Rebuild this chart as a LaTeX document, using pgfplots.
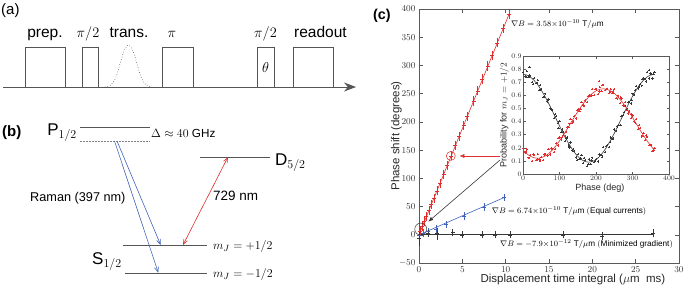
\documentclass[border=0pt]{standalone}
\usepackage{pgfplots}
\pgfplotsset{compat=1.18}
\usepackage{fontspec}
\setmainfont{Liberation Sans}
\usetikzlibrary{arrows.meta}

\definecolor{cred}{RGB}{225,45,45}
\definecolor{cblue}{RGB}{65,100,185}
\definecolor{cblk}{RGB}{55,55,55}
\definecolor{cgray}{RGB}{85,85,85}

\newcommand{\fs}[1]{\fontsize{#1}{#1}\selectfont}

\begin{document}
\begin{tikzpicture}
\useasboundingbox (0pt,0pt) rectangle (685pt,290pt);

% ---------- panels (a) and (b): hidden axis in pixel coordinates ----------
\begin{axis}[at={(0pt,0pt)},anchor=south west,scale only axis,
  width=685pt,height=290pt,xmin=0,xmax=685,ymin=0,ymax=290,
  y dir=reverse,hide axis,clip=false]
% (a)
\node[anchor=base west,inner sep=0,font=\fs{15}] at (1,14) {(a)};
\draw[cgray,line width=0.8pt,-{Stealth[length=12pt,width=9pt]}] (3,87) -- (356,87);
\draw[cgray,line width=0.7pt] (25,87) -- (25,47) -- (65,47) -- (65,87);
\draw[cgray,line width=0.7pt] (82,87) -- (82,47) -- (98,47) -- (98,87);
\draw[cgray,line width=0.6pt,dotted] plot[smooth] coordinates {(105,87) (111,85) (116,77) (120,64) (124,51) (128.5,45) (133,51) (137,64) (141,77) (146,85) (152,87)};
\draw[cgray,line width=0.7pt] (162,87) -- (162,47) -- (193,47) -- (193,87);
\draw[cgray,line width=0.7pt] (257,87) -- (257,47) -- (274,47) -- (274,87);
\draw[cgray,line width=0.7pt] (293,87) -- (293,47) -- (333,47) -- (333,87);
\node[anchor=base,inner sep=0,font=\fs{15.5}] at (45,37) {prep.};
\node[anchor=base,inner sep=0,font=\fs{15.5}] at (88,37) {$\pi/2$};
\node[anchor=base,inner sep=0,font=\fs{15.5}] at (129,37) {trans.};
\node[anchor=base,inner sep=0,font=\fs{15.5}] at (172,37) {$\pi$};
\node[anchor=base,inner sep=0,font=\fs{15.5}] at (265.5,37) {$\pi/2$};
\node[anchor=base,inner sep=0,font=\fs{15.5}] at (320.5,37) {readout};
\node[inner sep=0,font=\fs{15}] at (265.5,67) {$\theta$};
% (b)
\node[anchor=base west,inner sep=0,font=\fs{15}\bfseries] at (2,136) {(b)};
\draw[cgray,line width=0.7pt] (80,127) -- (150,127);
\draw[gray,line width=0.6pt,dash pattern=on 1.5pt off 1.5pt] (80,141) -- (150,141);
\node[anchor=base east,inner sep=0,font=\fs{17}] at (77,135) {$\mathrm{P}_{1/2}$};
\node[anchor=base west,inner sep=0,font=\fs{11.7}] at (151,137) {$\Delta\approx 40$ GHz};
\draw[cgray,line width=0.7pt] (200,157) -- (270,157);
\node[anchor=base west,inner sep=0,font=\fs{17}] at (275,165) {$\mathrm{D}_{5/2}$};
\node[anchor=base west,inner sep=0,font=\fs{12.7}] at (30,201) {Raman (397 nm)};
\node[anchor=base west,inner sep=0,font=\fs{13.5}] at (213,200) {729 nm};
\draw[cgray,line width=0.7pt] (123,245) -- (207,245);
\draw[cgray,line width=0.7pt] (125,273) -- (207,273);
\node[anchor=base west,inner sep=0,font=\fs{17}] at (92,264.5) {$\mathrm{S}_{1/2}$};
\node[anchor=base west,inner sep=0,font=\fs{12.4}] at (213,249) {$m_J=+1/2$};
\node[anchor=base west,inner sep=0,font=\fs{12.4}] at (213,277) {$m_J=-1/2$};
\draw[cblue,line width=0.6pt,-{Straight Barb[length=5pt,width=4pt]}] (117,141) -- (160.7,245);
\draw[cblue,line width=0.6pt,-{Straight Barb[length=5pt,width=4pt]}] (114.5,141) -- (158.3,272.7);
\draw[cred,line width=0.6pt,{Straight Barb[length=5pt,width=4pt]}-{Straight Barb[length=5pt,width=4pt]}] (183,245) -- (228,157);
% (c) label
\node[anchor=base west,inner sep=0,font=\fs{14.3}\bfseries] at (373,19) {(c)};
\end{axis}

% ---------- panel (c): main axis ----------
\begin{axis}[at={(419pt,27pt)},anchor=south west,scale only axis,
  width=260pt,height=254pt,
  xmin=0,xmax=30,ymin=-50,ymax=400,
  xtick={0,5,...,30},ytick={-50,0,50,100,150,200,250,300,350,400},
  tick align=inside,
  axis line style={black!65},
  every tick/.style={black!65},
  tick label style={font=\fs{9},black!80},
  xlabel={Displacement time integral ($\mu\mathrm{m}\ \ \mathrm{ms}$)},
  ylabel={Phase shift (degrees)},
  label style={font=\fs{11.5},black!85},
  xlabel style={at={(axis description cs:0.592,-0.067)},anchor=center},
  ylabel style={at={(axis description cs:-0.0865,0.5)},anchor=center},
  clip=false]
% fitted lines
\addplot[cred,line width=0.6pt] coordinates {(0,0) (10.45,393)};
\addplot[cblue,line width=0.6pt] coordinates {(0,0) (9.9,66.5)};
\addplot[cblk,line width=0.6pt] coordinates {(0,0) (27,0)};
% red data
\addplot[cred,only marks,mark=-,mark size=2pt,mark options={line width=0.5pt},
  error bars/.cd,y dir=both,y fixed=4.5,
  error bar style={cred,line width=0.5pt},
  error mark options={cred,mark size=2pt,line width=0.5pt}]
  coordinates {(0,0) (0.15,6) (0.38,14.5) (0.62,23.5) (0.86,32.5) (1.14,43)
  (1.43,54) (1.71,64.5) (2.07,78) (2.41,91) (2.84,107) (3.26,123) (3.70,140)
  (4.20,158) (4.62,174) (5.15,194) (5.57,210) (6.29,237) (6.76,255) (7.32,276)
  (7.93,299) (8.44,318) (9.02,340) (9.71,366) (10.39,391)};
% blue data
\addplot[cblue,only marks,mark=-,mark size=2pt,mark options={line width=0.5pt},
  error bars/.cd,y dir=both,y fixed=3,
  error bar style={cblue,line width=0.5pt},
  error mark options={cblue,mark size=2pt,line width=0.5pt}]
  coordinates {(0,0) (0.5,3) (1.09,5.5) (1.94,10) (3.1,18.5) (5.2,33) (7.5,49.5) (9.85,66)};
% black data
\addplot[cblk,only marks,mark=-,mark size=2pt,mark options={line width=0.5pt},
  error bars/.cd,y dir=both,y explicit,
  error bar style={cblk,line width=0.5pt},
  error mark options={cblk,mark size=2pt,line width=0.5pt}]
  coordinates {(0,-7) +- (0,9) (1.09,2) +- (0,2.5) (2.06,2) +- (0,7) (3.88,4) +- (0,3)
  (4.97,0) +- (0,3) (7.3,0) +- (0,3) (8.77,0) +- (0,3) (10.48,0) +- (0,3)
  (16.6,0) +- (0,3) (21.1,-2) +- (0,3) (27.0,3) +- (0,4)};
% annotations
\node[anchor=west,inner sep=0,font=\fs{8.2}] at (axis cs:10.6,373.4)
  {$\nabla B = 3.58{\times}10^{-10}\ \mathrm{T}/\mu\mathrm{m}$};
\node[anchor=west,inner sep=0,font=\fs{8.2}] at (axis cs:8.39,42.6)
  {$\nabla B = 6.74{\times}10^{-10}\ \mathrm{T}/\mu\mathrm{m}\ \mathrm{(Equal\ currents)}$};
\node[anchor=west,inner sep=0,font=\fs{8.2}] at (axis cs:9.35,-16.9)
  {$\nabla B = -7.9{\times}10^{-12}\ \mathrm{T}/\mu\mathrm{m}\ \mathrm{(Minimized\ gradient)}$};
\draw[cred,line width=0.5pt] (axis cs:3.67,139.7) circle[radius=4.5pt];
\draw[cblk,line width=0.5pt] (axis cs:0.2,10) circle[radius=6pt];
\draw[cred,line width=0.6pt,-{Latex[length=5pt,width=4pt]}] (axis cs:9.35,139.6) -- (axis cs:4.65,139.6);
\draw[cblk,line width=0.6pt,-{Latex[length=5pt,width=4pt]}] (axis cs:9.35,132.5) -- (axis cs:1.07,23.2);
\end{axis}

% ---------- inset ----------
\begin{axis}[at={(523pt,116pt)},anchor=south west,scale only axis,
  width=146pt,height=118pt,
  xmin=0,xmax=400,ymin=0,ymax=0.9,
  xtick={0,100,200,300,400},
  ytick={0,0.1,0.2,0.3,0.4,0.5,0.6,0.7,0.8,0.9},
  yticklabel style={/pgf/number format/fixed,/pgf/number format/precision=1,inner sep=1.2pt},
  xticklabel style={inner sep=1.5pt},
  tick align=inside,
  major tick length=2.5pt,
  axis background/.style={fill=white},
  axis line style={black!65},
  every tick/.style={black!65},
  tick label style={font=\fs{7},black!80},
  xlabel={Phase (deg)},
  ylabel={Probability for $m_J=+1/2$},
  xlabel style={font=\fs{9},black!85,inner sep=0,at={(axis description cs:0.527,-0.119)},anchor=center},
  ylabel style={font=\fs{9},black!85,inner sep=0,at={(axis description cs:-0.128,0.5)},anchor=center}]
% black scatter
\addplot[cblk,only marks,mark=+,mark size=1.1pt,mark options={line width=0.35pt}] coordinates {
(0,0.780) (5,0.744) (10,0.785) (15,0.739) (20,0.745) (18,0.815) (25,0.704) (30,0.730) (35,0.694)
(40,0.717) (45,0.642) (50,0.650) (55,0.587) (60,0.613) (65,0.552) (70,0.570) (75,0.502)
(80,0.488) (85,0.429) (90,0.440) (95,0.391) (100,0.402) (105,0.318) (110,0.320) (115,0.253)
(120,0.278) (125,0.218) (130,0.240) (135,0.178) (140,0.173) (145,0.126) (150,0.150) (155,0.116)
(160,0.145) (165,0.081) (170,0.105) (175,0.061) (180,0.110) (185,0.076) (190,0.125) (195,0.091)
(200,0.115) (205,0.096) (210,0.150) (215,0.146) (220,0.203) (225,0.168) (230,0.220) (235,0.203)
(240,0.278) (245,0.268) (250,0.340) (255,0.328) (260,0.372) (265,0.371) (270,0.440) (275,0.449)
(280,0.518) (285,0.492) (290,0.550) (295,0.537) (300,0.613) (305,0.602) (310,0.670) (315,0.652)
(320,0.687) (325,0.674) (330,0.730) (335,0.724) (340,0.775) (345,0.729) (346,0.795) (350,0.765)
(355,0.729) (360,0.780)
(7.5,0.737) (17.5,0.755) (27.5,0.687) (37.5,0.696) (47.5,0.676) (57.5,0.590) (67.5,0.564)
(77.5,0.493) (87.5,0.460) (97.5,0.352) (107.5,0.339) (117.5,0.270) (127.5,0.202) (137.5,0.188)
(147.5,0.108) (157.5,0.121) (167.5,0.123) (177.5,0.076) (187.5,0.103) (197.5,0.101) (207.5,0.148)
(217.5,0.130) (227.5,0.214) (237.5,0.245) (247.5,0.277) (257.5,0.363) (267.5,0.376) (277.5,0.474)
(287.5,0.551) (297.5,0.565) (307.5,0.639) (317.5,0.667) (327.5,0.727) (337.5,0.705) (347.5,0.767)
(357.5,0.760)};
% red scatter
\addplot[cred,only marks,mark=+,mark size=1.1pt,mark options={line width=0.35pt}] coordinates {
(0,0.197) (5,0.163) (10,0.190) (15,0.125) (20,0.146) (25,0.099) (30,0.144) (35,0.106) (40,0.150)
(45,0.111) (50,0.129) (55,0.104) (60,0.151) (65,0.140) (70,0.190) (75,0.148) (80,0.192) (85,0.168)
(90,0.235) (95,0.218) (100,0.283) (105,0.263) (110,0.299) (115,0.291) (120,0.354) (125,0.357)
(130,0.420) (135,0.388) (140,0.441) (145,0.424) (150,0.496) (155,0.482) (160,0.548) (165,0.527)
(170,0.560) (175,0.547) (180,0.603) (185,0.597) (190,0.650) (195,0.605) (200,0.644) (205,0.611)
(208,0.710) (210,0.666) (215,0.634) (220,0.680) (225,0.639) (230,0.651) (235,0.616) (240,0.649)
(245,0.620) (250,0.650) (255,0.582) (260,0.598) (265,0.542) (270,0.575) (275,0.522) (280,0.548)
(285,0.487) (290,0.481) (295,0.429) (300,0.446) (305,0.403) (310,0.420) (315,0.342) (320,0.349)
(325,0.286) (330,0.314) (335,0.258) (340,0.283) (345,0.223) (350,0.220) (355,0.173) (360,0.197)
(7.5,0.172) (17.5,0.121) (27.5,0.152) (37.5,0.111) (47.5,0.098) (57.5,0.148) (67.5,0.145)
(77.5,0.195) (87.5,0.192) (97.5,0.273) (107.5,0.284) (117.5,0.318) (127.5,0.384) (137.5,0.400)
(147.5,0.490) (157.5,0.497) (167.5,0.521) (177.5,0.595) (187.5,0.604) (197.5,0.650) (207.5,0.629)
(217.5,0.680) (227.5,0.648) (237.5,0.628) (247.5,0.630) (257.5,0.575) (267.5,0.589) (277.5,0.517)
(287.5,0.462) (297.5,0.458) (307.5,0.392) (317.5,0.371) (327.5,0.290) (337.5,0.293) (347.5,0.224)
(357.5,0.180)};
% fits
\addplot[cblk,line width=0.6pt,smooth] coordinates {
(0,0.760) (10,0.755) (20,0.740) (30,0.715) (40,0.682) (50,0.640) (60,0.5925) (70,0.540) (80,0.483)
(90,0.425) (100,0.367) (110,0.310) (120,0.2575) (130,0.210) (140,0.168) (150,0.135) (160,0.110)
(170,0.095) (180,0.090) (190,0.095) (200,0.110) (210,0.135) (220,0.168) (230,0.210) (240,0.2575)
(250,0.310) (260,0.367) (270,0.425) (280,0.483) (290,0.540) (300,0.5925) (310,0.640) (320,0.682)
(330,0.715) (340,0.740) (350,0.755) (360,0.760)};
\addplot[cred,line width=0.6pt,smooth] coordinates {
(0,0.182) (10,0.155) (20,0.136) (30,0.124) (40,0.120) (50,0.124) (60,0.136) (70,0.155) (80,0.182)
(90,0.215) (100,0.2525) (110,0.294) (120,0.339) (130,0.385) (140,0.431) (150,0.476) (160,0.5175)
(170,0.555) (180,0.588) (190,0.615) (200,0.634) (210,0.646) (220,0.650) (230,0.646) (240,0.634)
(250,0.615) (260,0.588) (270,0.555) (280,0.5175) (290,0.476) (300,0.431) (310,0.385) (320,0.339)
(330,0.294) (340,0.2525) (350,0.215) (360,0.182)};
\end{axis}
\end{tikzpicture}
\end{document}
